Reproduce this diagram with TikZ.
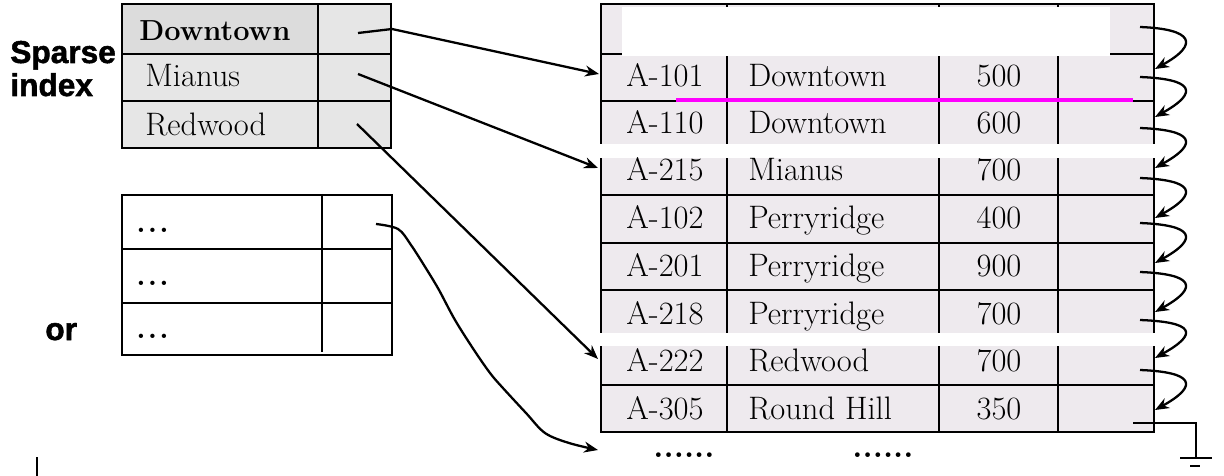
\documentclass[tikz,border=0pt]{standalone}
\usepackage{fontspec}
\usetikzlibrary{arrows.meta}
\newfontfamily\labelfont{Liberation Sans}[UprightFont=*-Bold, UprightFeatures={FakeBold=1.6}]
\definecolor{idxgray}{HTML}{E6E6E6}
\definecolor{idxdark}{HTML}{DCDCDC}
\definecolor{recgray}{HTML}{EEEAEE}
\definecolor{splitline}{RGB}{255,0,255}
\newcommand{\gapdots}{.\kern1.2pt.\kern1.2pt.}
\tikzset{
	cell/.style={font=\fontsize{18.5}{20}\selectfont, inner sep=0pt},
	tag/.style={font=\labelfont\fontsize{18}{20}\selectfont, inner sep=0pt},
	ptr/.style={line width=1.3pt, -{Stealth[length=0.28cm,width=0.22cm]}},
}

\begin{document}
\begin{tikzpicture}[x=0.02cm,y=-0.02cm]
			%%%%% START %%%%%
			\useasboundingbox (0,0) rectangle (1224,476);
			
			\node[tag, anchor=base west] (sparse) at (10,63) {Sparse};
			\node[tag, anchor=base west] (index) at (10,96) {index};
			\node[tag, anchor=base west] (or) at (45,340) {or};
			
			% sparse index
			\draw[line width=1.1pt, fill=idxgray] (122,4) rectangle (391,148);
			\fill[idxdark] (123,5) rectangle (318,54);
			\draw[line width=1.1pt] (122,54) -- (391,54);
			\draw[line width=1.1pt] (122,101) -- (391,101);
			\draw[line width=1.1pt] (318,4) -- (318,148);
			\node[cell, font=\bfseries\fontsize{16.5}{18}\selectfont, anchor=base west] (kDown) at (139,41) {Downtown};
			\node[cell, anchor=base west] (kMia) at (145,87) {Mianus};
			\node[cell, anchor=base west] (kRed) at (145,136) {Redwood};
			\coordinate (pDown) at (358,33);
			\coordinate (pMia) at (358,74);
			\coordinate (pRed) at (357,124);
			
			% the other index
			\draw[line width=1.7pt] (122,195) rectangle (392,355);
			\draw[line width=1.7pt] (122,249) -- (392,249);
			\draw[line width=1.7pt] (122,303) -- (392,303);
			\draw[line width=1.5pt] (322,194) -- (322,352);
			\node[cell, font=\bfseries\fontsize{17}{20}\selectfont, anchor=base west] (kDots1) at (136,233) {\gapdots};
			\node[cell, font=\bfseries\fontsize{17}{20}\selectfont, anchor=base west] (kDots2) at (136,286) {\gapdots};
			\node[cell, font=\bfseries\fontsize{17}{20}\selectfont, anchor=base west] (kDots3) at (136,338) {\gapdots};
			\coordinate (pOr) at (376,224);
			
			% records
			\fill[recgray] (601,4) rectangle (1154,432);
			\foreach \y in {54,101,148,195,243,290,338,385}
				\draw[line width=1.3pt] (601,\y) -- (1154,\y);
			\foreach \x in {727,939,1058}
				\draw[line width=1.3pt] (\x,4) -- (\x,432);
			\draw[line width=1.3pt] (601,4) rectangle (1154,432);
			\fill[white] (622,7) rectangle (1110,56);
			\draw[line width=2.3pt, color=splitline] (676,100) -- (1133,100);
			\fill[white] (597,144) rectangle (1158,158);
			\fill[white] (597,333) rectangle (1158,346);
			
			\foreach \i/\b/\id/\br/\bal in {1/87/A-101/Downtown/500, 2/134/A-110/Downtown/600,
				3/181/A-215/Mianus/700, 4/229/A-102/Perryridge/400, 5/276/A-201/Perryridge/900,
				6/324/A-218/Perryridge/700, 7/371/A-222/Redwood/700, 8/419/A-305/Round Hill/350} {
				\node[cell, anchor=base] (id\i) at (665,\b) {\id};
				\node[cell, anchor=base west] (br\i) at (748,\b) {\br};
				\node[cell, anchor=base] (bal\i) at (999,\b) {\bal};
			}
			\coordinate (rec1) at (599,74);
			\coordinate (rec3) at (598,168);
			\coordinate (rec7) at (598,359);
			\coordinate (rest) at (598,450);
			
			% index pointers
			\draw[ptr] (pDown) -- (392,29) -- (rec1);
			\draw[ptr] (pMia) -- (rec3);
			\draw[ptr] (pRed) -- (rec7);
			\draw[ptr] plot[smooth, tension=0.55] coordinates {(pOr) (398,229) (411,245) (427,270) (439,290)
				(455,320) (474,350) (490,373) (502,387) (526,413) (545,433) (569,443) (rest)};
			
			% record chain
			\foreach \i/\s/\t in {0/27/69, 1/77/117, 2/128/168, 3/178/218, 4/223/263, 5/272/312, 6/320/358, 7/370/410} {
				\coordinate (nx\i) at (1140,\s);
				\coordinate (in\i) at (1155,\t);
				\draw[ptr] (nx\i) .. controls +(53,2) and +(45,-25) .. (in\i);
			}
			\coordinate (nx8) at (1133,423);
			\coordinate (gnd) at (1196,458);
			\draw[line width=1.3pt] (nx8) -| (gnd);
			\draw[line width=1.3pt] (1180,458) -- (1212,458);
			\draw[line width=1.3pt] (1190,466) -- (1200,466);
			
			\node[cell, font=\bfseries\fontsize{18.5}{20}\selectfont, anchor=base] (more1) at (684,457) {......};
			\node[cell, font=\bfseries\fontsize{18.5}{20}\selectfont, anchor=base] (more2) at (883,457) {......};
			
			\draw[line width=1.2pt] (37,457) -- (37,476);
			%%%%% END %%%%%
\end{tikzpicture}
\end{document}
